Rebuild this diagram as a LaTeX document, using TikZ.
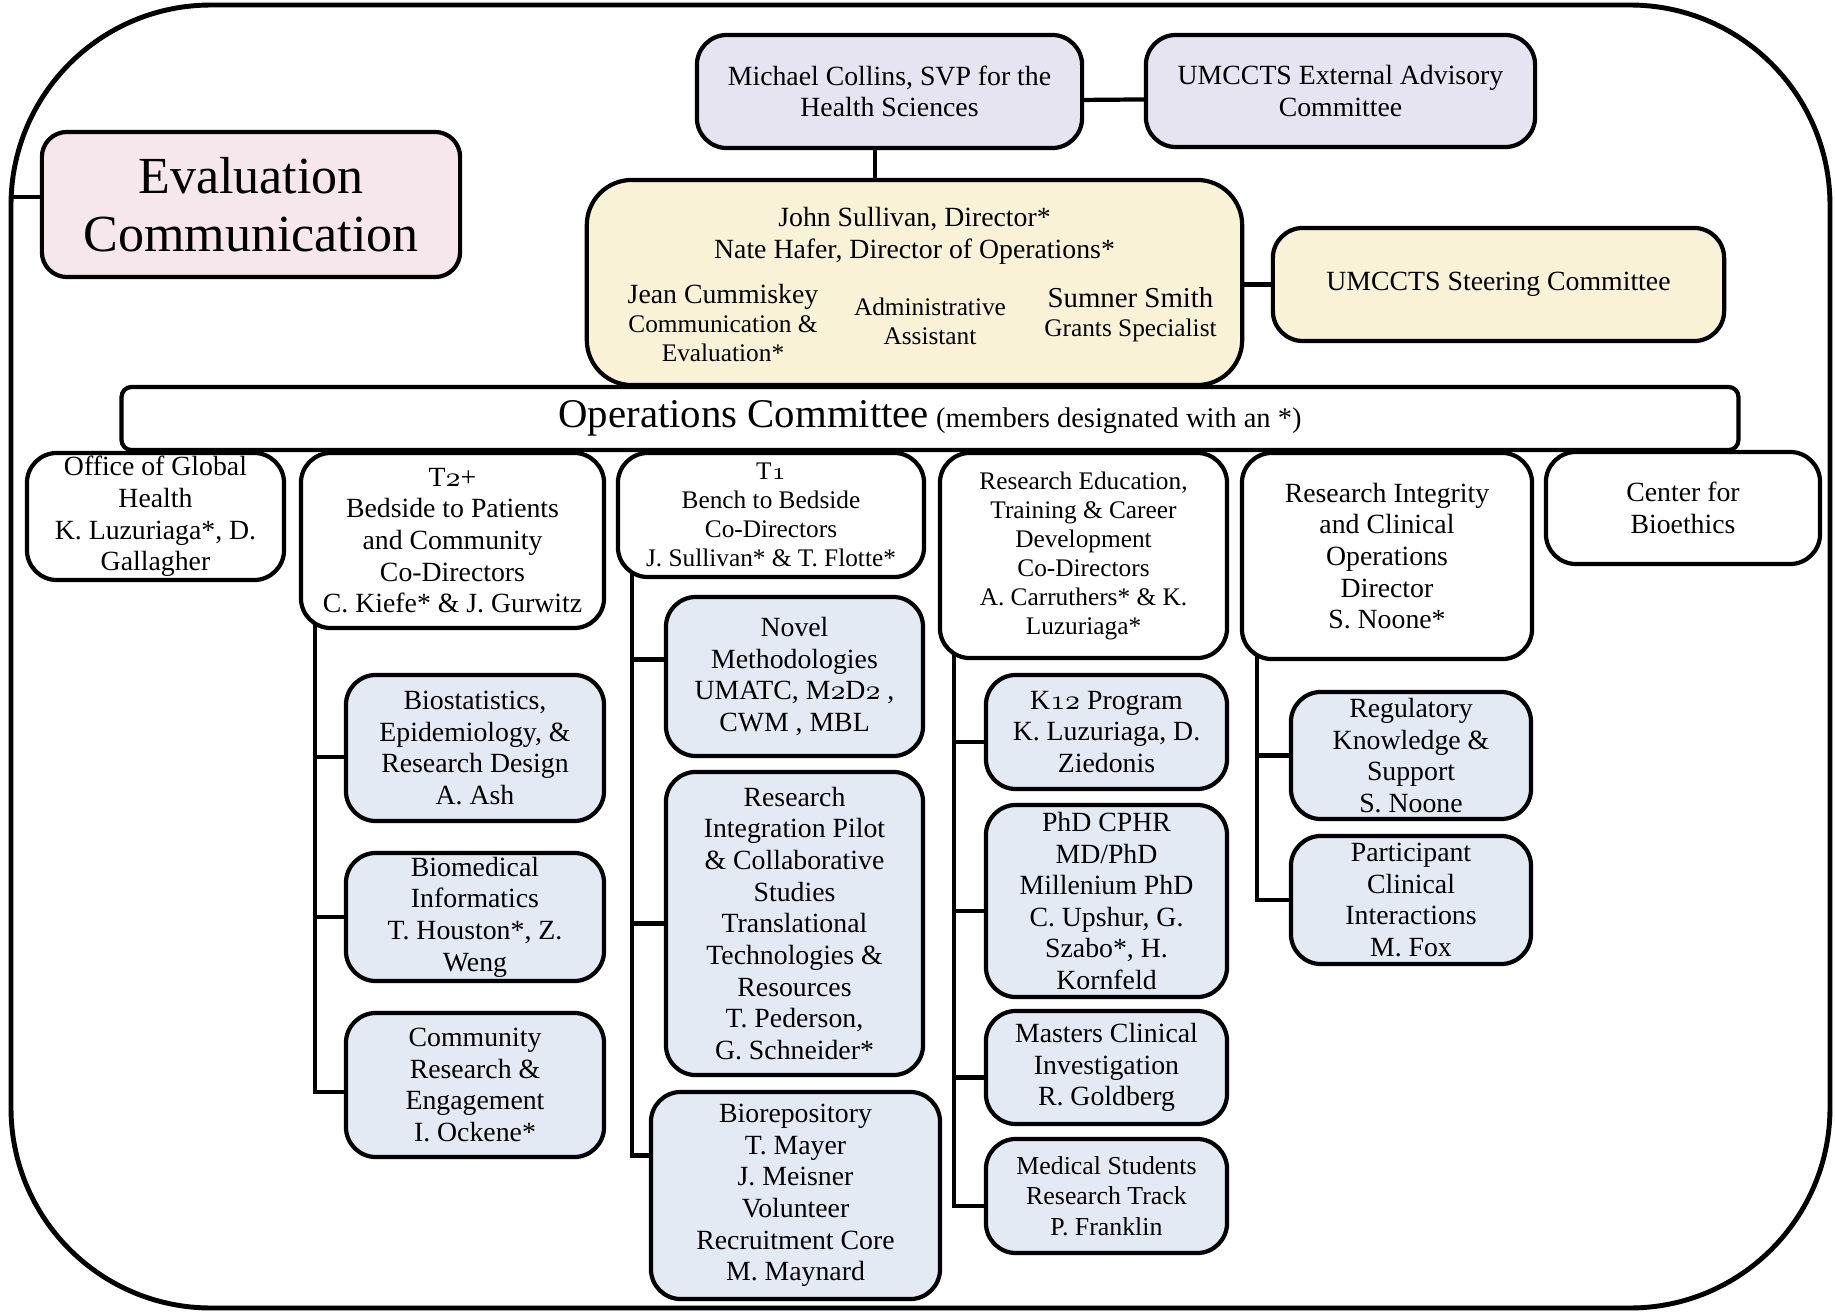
\documentclass[tikz,border=0pt]{standalone}
\usepackage{fontspec}
\setmainfont{Liberation Serif}
\usepackage{tikz}
\usetikzlibrary{backgrounds}
\definecolor{lavender}{RGB}{230,228,240}
\definecolor{cream}{RGB}{250,242,214}
\definecolor{blush}{RGB}{245,231,236}
\definecolor{paleblue}{RGB}{227,234,244}
\newcommand{\basefont}{\fontsize{7.9}{9}\selectfont}
\newcommand{\smallfont}{\fontsize{7.2}{8.25}\selectfont}
\newcommand{\osf}[1]{$\mathnormal{#1}$}

\begin{document}
\begin{tikzpicture}
	[x=0.01cm,y=-0.01cm,
	 box/.style={draw,line width=1.2pt,rounded corners=0.3cm,align=center,inner sep=0.5pt,font=\basefont},
	 headbox/.style={box,fill=white},
	 subbox/.style={box,fill=paleblue},
	 boxsize/.style 2 args={minimum width=#1cm,minimum height=#2cm},
	 link/.style={line width=1.2pt}];
\useasboundingbox (0,0) rectangle (1835,1312);
\draw[line width=1.4pt,rounded corners=2cm] (11,5) rectangle (1830,1308);

\node[box,fill=lavender,boxsize={3.85}{1.13}] (collins) at (889.5,91.5) {Michael Collins, SVP for the\\Health Sciences};
\node[box,fill=lavender,boxsize={3.89}{1.12}] (advisory) at (1340.5,91) {UMCCTS External Advisory\\Committee};
\node[box,fill=cream,rounded corners=0.45cm,boxsize={6.55}{2.05}] (director) at (914.5,282.5) {};
\node[box,fill=cream,boxsize={4.51}{1.13}] (steering) at (1498.5,284.5) {UMCCTS Steering Committee};
\node[box,fill=blush,rounded corners=0.25cm,boxsize={4.18}{1.45},font=\fontsize{14.8}{16.5}\selectfont] (evaluation) at (251,204.5) {Evaluation\\Communication};

% inside the director box
\node[align=center,font=\basefont] (sullivan) at (914.5,236) {John Sullivan, Director*\\Nate Hafer, Director of Operations*};
\node[align=center,font=\smallfont] (cummiskey) at (723,323) {{\basefont Jean Cummiskey}\\Communication \&\\Evaluation*};
\node[align=center,font=\smallfont] (assistant) at (930,321.5) {Administrative\\Assistant};
\node[align=center,font=\smallfont] (smith) at (1130.5,314.5) {{\fontsize{8.2}{9}\selectfont Sumner Smith}\\Grants Specialist};

\node[box,fill=white,rounded corners=0.1cm,boxsize={16.16}{0.63},font=\fontsize{8.1}{9}\selectfont] (operations) at (930,418.5) {{\fontsize{11.6}{12}\selectfont Operations Committee} (members designated with an *)};

% top row
\node[headbox,boxsize={2.57}{1.27}] (globalhealth) at (155.5,516.5) {Office of Global\\Health\\K. Luzuriaga*, D.\\Gallagher};
\node[headbox,boxsize={3.03}{1.75}] (ttwo) at (452.5,540.5) {T\osf{2}+\\Bedside to Patients\\and Community\\Co-Directors\\C. Kiefe* \& J. Gurwitz};
\node[headbox,boxsize={3.06}{1.24},font=\smallfont] (tone) at (771,515) {T\osf{1}\\Bench to Bedside\\Co-Directors\\J. Sullivan* \& T. Flotte*};
\node[headbox,boxsize={2.87}{2.05},font=\smallfont] (education) at (1083.5,555.5) {Research Education,\\Training \& Career\\Development\\Co-Directors\\A. Carruthers* \& K.\\Luzuriaga*};
\node[headbox,boxsize={2.90}{2.06}] (integrity) at (1387,556) {Research Integrity\\and Clinical\\Operations\\Director\\S. Noone*};
\node[headbox,boxsize={2.74}{1.12}] (bioethics) at (1683,508) {Center for\\Bioethics};

% programs
\node[subbox,boxsize={2.58}{1.46}] (biostat) at (475,748) {Biostatistics,\\Epidemiology, \&\\Research Design\\A. Ash};
\node[subbox,boxsize={2.58}{1.28}] (informatics) at (475,917) {Biomedical\\Informatics\\T. Houston*, Z.\\Weng};
\node[subbox,boxsize={2.58}{1.44}] (community) at (475,1085) {Community\\Research \&\\Engagement\\I. Ockene*};
\node[subbox,boxsize={2.57}{1.59}] (novel) at (794.5,676.5) {Novel\\Methodologies\\UMATC, M\osf{2}D\osf{2} ,\\CWM , MBL};
\node[subbox,boxsize={2.57}{3.03}] (pilot) at (794.5,923.5) {Research\\Integration Pilot\\\& Collaborative\\Studies\\Translational\\Technologies \&\\Resources\\T. Pederson,\\G. Schneider*};
\node[subbox,boxsize={2.89}{2.07}] (biorepository) at (795.5,1195.5) {Biorepository\\T. Mayer\\J. Meisner\\Volunteer\\Recruitment Core\\M. Maynard};
\node[subbox,boxsize={2.41}{1.14}] (kprogram) at (1106.5,732) {K\osf{12} Program\\K. Luzuriaga, D.\\Ziedonis};
\node[subbox,boxsize={2.41}{1.92}] (phd) at (1106.5,901) {PhD CPHR\\MD/PhD\\Millenium PhD\\C. Upshur, G.\\Szabo*, H.\\Kornfeld};
\node[subbox,boxsize={2.41}{1.13}] (masters) at (1106.5,1067.5) {Masters Clinical\\Investigation\\R. Goldberg};
\node[subbox,boxsize={2.41}{1.14},font=\fontsize{7.35}{8.6}\selectfont] (medstudents) at (1106.5,1196) {Medical Students\\Research Track\\P. Franklin};
\node[subbox,boxsize={2.40}{1.27}] (regulatory) at (1411,755.5) {Regulatory\\Knowledge \&\\Support\\S. Noone};
\node[subbox,boxsize={2.40}{1.28}] (participant) at (1411,900) {Participant\\Clinical\\Interactions\\M. Fox};

\begin{scope}[on background layer]
\draw[link] ([yshift=-2.4pt]collins.east) -- ([yshift=-2.4pt]advisory.west);
\draw[link] ([xshift=-0.145cm]collins.south) -- ([xshift=-0.145cm]collins.south |- director.north);
\draw[link] (steering.west -| director.east) -- (steering.west);
\coordinate (frameedge) at (11,197);
\draw[link] (frameedge) -- (frameedge -| evaluation.west);
% trunks below the top row
\coordinate (ttwotrunk) at ([xshift=0.16cm]ttwo.south west);
\coordinate (tonetrunk) at ([xshift=0.16cm]tone.south west);
\coordinate (edutrunk) at ([xshift=0.16cm]education.south west);
\coordinate (integritytrunk) at ([xshift=0.17cm]integrity.south west);
\coordinate (statbranch) at ([yshift=-0.09cm]biostat.west);
\coordinate (novelbranch) at ([yshift=0.17cm]novel.west);
\coordinate (repobranch) at ([yshift=0.4cm]biorepository.west);
\draw[link] ([yshift=3pt]ttwotrunk) |- ([yshift=-0.07cm]community.west);
\draw[link] (ttwotrunk |- statbranch) -- (statbranch);
\draw[link] (ttwotrunk |- informatics.west) -- (informatics.west);
\draw[link] ([yshift=3pt]tonetrunk) |- (repobranch);
\draw[link] (novelbranch -| tonetrunk) -- (novelbranch);
\draw[link] (tonetrunk |- pilot.west) -- (pilot.west);
\draw[link] ([yshift=3pt]edutrunk) |- ([yshift=-0.1cm]medstudents.west);
\foreach \n in {kprogram,phd,masters}{
	\coordinate (edubranch) at ([yshift=-0.1cm]\n.west);
	\draw[link] (edutrunk |- edubranch) -- (edubranch);}
\draw[link] ([yshift=3pt]integritytrunk) |- (participant.west);
\draw[link] (integritytrunk |- regulatory.west) -- (regulatory.west);
\end{scope}
\end{tikzpicture}
\end{document}
